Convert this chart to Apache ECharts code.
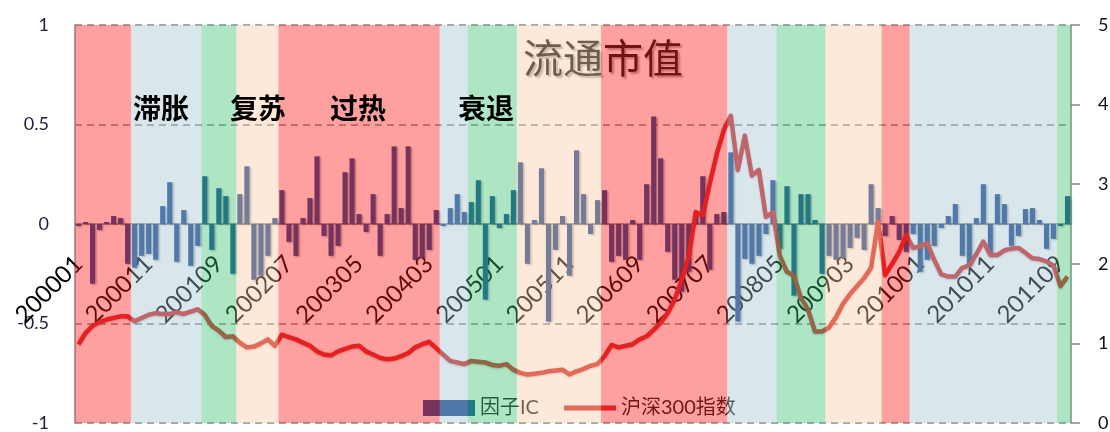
<!DOCTYPE html>
<html>
<head>
<meta charset="utf-8">
<script src="https://cdn.jsdelivr.net/npm/echarts@6/dist/echarts.min.js"></script>
<style>
html,body{margin:0;padding:0;background:#fff;}
#chart{width:1110px;height:432px;}
</style>
</head>
<body>
<div id="chart"></div>
<script>
// ---- data ----
const startMonth = [2000, 1];
const monthCount = 142; // 200001 .. 201110
const months = [];
for (let k = 0; k < monthCount; k++) {
  const y = startMonth[0] + Math.floor((startMonth[1] - 1 + k) / 12);
  const m = (startMonth[1] - 1 + k) % 12 + 1;
  months.push(String(y) + (m < 10 ? '0' + m : String(m)));
}

const factorIC = [
  -0.01, 0.01, -0.30, -0.03, 0.01, 0.04, 0.03, -0.20,
  -0.22, -0.16, -0.15, -0.18, 0.09, 0.21, -0.19, 0.07, -0.21, -0.11,
  0.24, -0.13, 0.18, 0.14, -0.25,
  0.15, 0.29, -0.28, -0.26, -0.16, 0.03,
  0.17, -0.09, -0.16, 0.03, 0.13, 0.34, -0.06, -0.16, -0.11, 0.26,
  0.33, 0.05, -0.04, 0.15, -0.16, 0.05, 0.39, 0.08, 0.39, -0.18,
  -0.17, -0.13, 0.07,
  -0.01, 0.08, 0.15, 0.06,
  0.11, 0.22, -0.38, 0.14, -0.02, 0.05, 0.17,
  0.31, -0.20, 0.02, 0.28, -0.49, -0.13, 0.04, -0.26, 0.37, 0.15, -0.05, 0.12,
  0.17, -0.19, -0.16, -0.18, 0.02, -0.18, 0.20, 0.54, 0.33, -0.14,
  -0.28, -0.34, -0.24, 0.05, 0.24, -0.23, 0.05, 0.06,
  0.36, -0.49, -0.175, -0.20, -0.16, -0.05, 0.22,
  -0.125, 0.19, -0.36, 0.15, 0.15, 0.02, -0.25,
  -0.16, -0.18, -0.17, -0.12, -0.07, -0.13, 0.20, 0.08,
  -0.06, 0.04, -0.08, -0.14,
  -0.05, -0.24, -0.18, -0.11, -0.02, 0.04, 0.10, -0.16, -0.21, 0.03,
  0.20, -0.15, 0.15, 0.10, -0.11, -0.06, 0.075, 0.08, 0.02, -0.125, -0.075,
  -0.01, 0.14
];

const hs300 = [
  0.99, 1.13, 1.22, 1.27, 1.30, 1.32, 1.34, 1.34,
  1.28, 1.32, 1.36, 1.38, 1.37, 1.37, 1.39, 1.37, 1.40, 1.43,
  1.36, 1.22, 1.16, 1.08, 1.09,
  1.01, 0.95, 0.96, 1.00, 1.05, 0.97,
  1.11, 1.08, 1.05, 1.01, 0.97, 0.90, 0.86, 0.85, 0.90, 0.93,
  0.96, 0.97, 0.90, 0.86, 0.82, 0.80, 0.81, 0.84, 0.88, 0.95,
  0.99, 1.02, 0.94,
  0.86, 0.78, 0.76, 0.74,
  0.78, 0.77, 0.76, 0.73, 0.72, 0.74, 0.67,
  0.63, 0.61, 0.62, 0.63, 0.65, 0.66, 0.67, 0.61, 0.65, 0.68, 0.72, 0.74,
  0.84, 0.98, 0.95, 0.97, 0.99, 1.05, 1.09, 1.17, 1.26, 1.38,
  1.55, 1.80, 2.09, 2.65, 2.61, 3.01, 3.38, 3.68,
  3.86, 3.18, 3.61, 3.11, 3.18, 2.59, 2.65,
  2.10, 1.90, 1.85, 1.57, 1.43, 1.15, 1.15,
  1.20, 1.33, 1.50, 1.62, 1.72, 1.82, 1.95, 2.53,
  1.86, 2.00, 2.15, 2.36,
  2.20, 2.22, 2.26, 2.05, 1.87, 1.84, 1.84, 1.95, 1.98, 2.12,
  2.28, 2.11, 2.11, 2.17, 2.19, 2.20, 2.14, 2.07, 2.06, 2.03, 1.98,
  1.72, 1.84
];

// economic regimes (start month of each period)
const regimeStarts = ['200001','200009','200107','200112','200206','200405','200409','200504',
                      '200604','200710','200805','200812','200908','200912','201109'];
const regimeNames  = ['过热','滞胀','衰退','复苏','过热','滞胀','衰退','复苏',
                      '过热','滞胀','衰退','复苏','过热','滞胀','衰退'];
const regimeLabels = ['滞胀','复苏','过热','衰退'];

const leftTicks = [-1, -0.5, 0, 0.5, 1];
const rightTicks = [0, 1, 2, 3, 4, 5];

// ---- chart ----
const regimeColor = {
  '过热': 'rgba(255,17,17,0.40)',
  '滞胀': 'rgba(160,192,208,0.40)',
  '衰退': 'rgba(50,190,110,0.40)',
  '复苏': 'rgba(250,200,160,0.40)'
};
const bandData = regimeStarts.map((s, k) => {
  const a = months.indexOf(s);
  const b = k + 1 < regimeStarts.length ? months.indexOf(regimeStarts[k + 1]) - 1 : months.length - 1;
  return { value: [a, 0, b], regime: regimeNames[k] };
});

const labelFont = 'Lato, "Noto Sans CJK SC", sans-serif';
const labelPos = [133, 230, 330, 458];
const gridTop = 25, gridBottom = 9, chartH = 432;
const plotH = chartH - gridTop - gridBottom;
// x axis sits at the IC zero level: shift it up from the grid bottom
const zeroOffset = -plotH * (0 - leftTicks[0]) / (leftTicks[leftTicks.length - 1] - leftTicks[0]);

const chart = echarts.init(document.getElementById('chart'), null, {renderer: 'canvas'});
chart.setOption({
  animation: false,
  backgroundColor: '#ffffff',
  title: {
    text: '流通市值',
    left: 523, top: 38, padding: 0,
    textStyle: {
      fontFamily: '"Noto Sans CJK SC", sans-serif',
      fontSize: 40, fontWeight: 'normal', color: '#151515',
      textShadowColor: 'rgba(0,0,0,0.35)', textShadowBlur: 2,
      textShadowOffsetX: 2, textShadowOffsetY: 2
    }
  },
  legend: {
    left: 418, top: 393, itemWidth: 52, itemHeight: 16, itemGap: 25,
    textStyle: {fontFamily: labelFont, fontSize: 20, color: '#1a1a1a'},
    data: [{name: '因子IC', icon: 'rect'},
           {name: '沪深300指数', icon: 'path://M0,0 L52,0 L52,5 L0,5 Z'}]
  },
  grid: {left: 75, right: 39, top: gridTop, bottom: gridBottom, containLabel: false, outerBoundsMode: 'none'},
  xAxis: {
    type: 'category', data: months, z: 1, position: 'bottom', offset: zeroOffset,
    axisLine: {onZero: false, lineStyle: {color: '#8c8c8c', width: 1.5}},
    axisTick: {show: false},
    axisLabel: {interval: 9, rotate: 45, margin: 36, fontFamily: labelFont, fontSize: 24, color: '#000'},
    splitLine: {show: false}
  },
  yAxis: [{
    type: 'value', min: leftTicks[0], max: leftTicks[leftTicks.length - 1], interval: 0.5,
    axisLine: {show: true, lineStyle: {color: '#8c8c8c', width: 1.5}},
    axisTick: {show: false},
    axisLabel: {margin: 26, fontFamily: labelFont, fontSize: 18, color: '#1e1e3c'},
    splitLine: {show: true, lineStyle: {color: '#888', width: 1.5, type: [7, 5]}}
  }, {
    type: 'value', min: rightTicks[0], max: rightTicks[rightTicks.length - 1], interval: 1,
    position: 'right',
    axisLine: {show: true, lineStyle: {color: '#7c8c84', width: 1.5}},
    axisTick: {show: true, length: 9, lineStyle: {color: '#888', width: 1.5}},
    axisLabel: {margin: 27, fontFamily: labelFont, fontSize: 18, color: '#111'},
    splitLine: {show: false}
  }],
  series: [{
    name: '因子IC', type: 'bar', yAxisIndex: 0, data: factorIC,
    barCategoryGap: '28%', z: 2,
    itemStyle: {color: '#1b4a92', shadowColor: 'rgba(0,0,0,0.35)', shadowBlur: 2, shadowOffsetX: 1.5, shadowOffsetY: 1}
  }, {
    name: '沪深300指数', type: 'line', yAxisIndex: 1, data: hs300,
    symbol: 'none', z: 3,
    lineStyle: {color: '#d42a2a', width: 4.5, join: 'round', shadowColor: 'rgba(0,0,0,0.25)', shadowBlur: 2, shadowOffsetY: 1},
    itemStyle: {color: '#d42a2a'}
  }, {
    name: 'regimes', type: 'custom', yAxisIndex: 0, z: 50, silent: true,
    data: bandData,
    encode: {x: 0, y: 1},
    renderItem: function (params, api) {
      const item = bandData[params.dataIndex];
      const w = api.size([1, 0])[0];
      const p0 = api.coord([api.value(0), 1]);
      const p1 = api.coord([api.value(2), -1]);
      return {
        type: 'rect',
        shape: {x: p0[0] - w / 2, y: p0[1], width: p1[0] - p0[0] + w, height: p1[1] - p0[1]},
        style: {fill: regimeColor[item.regime]}
      };
    }
  }],
  graphic: regimeLabels.map((t, k) => ({
    type: 'text', left: labelPos[k], top: 94, z: 100,
    style: {text: t, fontFamily: '"Noto Sans CJK SC", sans-serif', fontSize: 28, fontWeight: 'bold', fill: '#000'}
  }))
});
</script>
</body>
</html>
